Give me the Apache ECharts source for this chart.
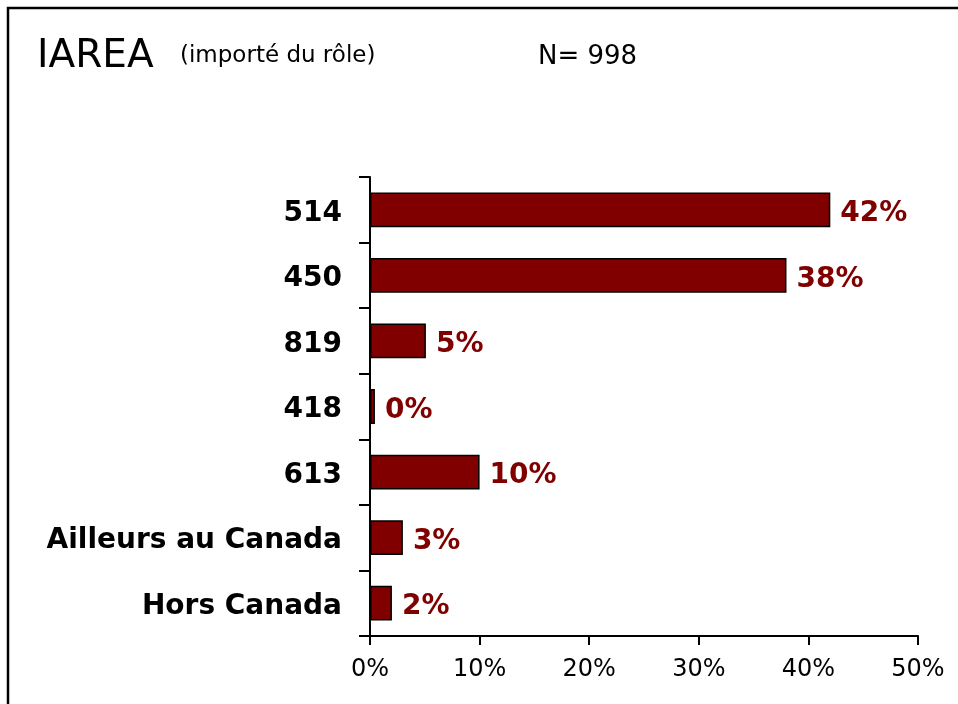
<!DOCTYPE html>
<html>
<head>
<meta charset="utf-8">
<script src="https://cdn.jsdelivr.net/npm/echarts@6/dist/echarts.min.js"></script>
<style>
  html, body { margin: 0; padding: 0; background: #fff; }
  #chart { width: 958px; height: 704px; }
</style>
</head>
<body>
<div id="chart"></div>
<script>
// categories from top to bottom
const categories = ["514", "450", "819", "418", "613", "Ailleurs au Canada", "Hors Canada"];
const percents = [42, 38, 5.1, 0.45, 10, 3, 2];
const shownLabels = ["42%", "38%", "5%", "0%", "10%", "3%", "2%"];
const xTicks = [0, 10, 20, 30, 40, 50];

const chart = echarts.init(document.getElementById("chart"));
chart.setOption({
  backgroundColor: "#fff",
  animation: false,
  title: [
    {
      text: "IAREA",
      left: 32,
      top: 32,
      textStyle: { fontFamily: "DejaVu Sans", fontSize: 39, fontWeight: "normal", color: "#000" }
    },
    {
      text: "(importé du rôle)",
      left: 175,
      top: 40,
      textStyle: { fontFamily: "DejaVu Sans", fontSize: 23, fontWeight: "normal", color: "#000" }
    },
    {
      text: "N= 998",
      left: 533,
      top: 39,
      textStyle: { fontFamily: "DejaVu Sans", fontSize: 26, fontWeight: "normal", color: "#000" }
    }
  ],
  graphic: [
    {
      // frame round the picture
      type: "rect",
      shape: { x: 8, y: 8, width: 1200, height: 1000 },
      style: { fill: null, stroke: "#000", lineWidth: 2.5 },
      silent: true
    }
  ],
  grid: {
    left: 370,
    right: 40,
    top: 177,
    bottom: 68
  },
  xAxis: {
    type: "value",
    min: 0,
    max: 50,
    interval: 10,
    splitLine: { show: false },
    axisLine: { show: true, lineStyle: { color: "#000", width: 2 } },
    axisTick: { show: true, length: 9, lineStyle: { color: "#000", width: 2 } },
    axisLabel: {
      margin: 22,
      fontFamily: "DejaVu Sans",
      fontSize: 24,
      color: "#000",
      formatter: function (v) {
        return xTicks.indexOf(v) >= 0 ? v + "%" : "";
      }
    }
  },
  yAxis: {
    type: "category",
    inverse: true,
    data: categories,
    axisLine: { show: true, lineStyle: { color: "#000", width: 2 } },
    axisTick: { show: true, length: 11, lineStyle: { color: "#000", width: 2 } },
    axisLabel: {
      margin: 28,
      color: "#000",
      formatter: function (v) {
        return "{c|" + v + "}";
      },
      rich: {
        c: {
          fontFamily: "DejaVu Sans",
          fontWeight: "bold",
          fontSize: 28,
          color: "#000",
          padding: [7, 0, 0, 0]
        }
      }
    }
  },
  series: [
    {
      type: "bar",
      data: percents,
      barCategoryGap: "47%",
      itemStyle: {
        color: "#800000",
        borderColor: "#000",
        borderWidth: 1.5
      },
      label: {
        show: true,
        position: "right",
        distance: 10,
        offset: [0, 4],
        fontFamily: "DejaVu Sans",
        fontWeight: "bold",
        fontSize: 28,
        color: "#800000",
        formatter: function (p) {
          return shownLabels[p.dataIndex];
        }
      }
    }
  ]
});
</script>
</body>
</html>
